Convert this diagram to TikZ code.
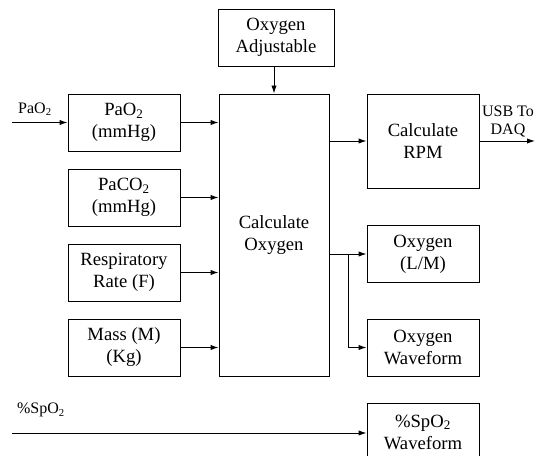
\documentclass[tikz,border=0pt]{standalone}
\usepackage{fontspec}
\setmainfont{Liberation Serif}
\usetikzlibrary{arrows.meta,positioning}

\begin{document}
\begin{tikzpicture}[
        x=0.75pt, y=-0.75pt,
        font=\fontsize{14}{16.5}\selectfont,
        block/.style={rectangle, draw=black, line width=0.7pt, minimum width=84pt, minimum height=42.75pt, inner sep=2pt, align=center},
        sidelabel/.style={font=\fontsize{12}{13.5}\selectfont, align=center, inner sep=1pt},
        arrow/.style={-{Latex[length=6pt,width=4pt]}, line width=0.7pt}
    ]
    \useasboundingbox (0,0) rectangle (544,456);

    \node[block, minimum width=87pt] (adjust) at (276,37.5) {Oxygen\\Adjustable};
    \node[block, minimum width=82.5pt, minimum height=211.5pt] (calcox) at (274,235) {Calculate\\Oxygen};

    \node[block] (pao) at (124,122.5) {PaO\textsubscript{2}\\(mmHg)};
    \node[block] (paco) at (124,197.5) {PaCO\textsubscript{2}\\(mmHg)};
    \node[block] (resp) at (124,272.5) {Respiratory\\Rate (F)};
    \node[block] (mass) at (124,347.5) {Mass (M)\\(Kg)};

    \node[block, minimum height=70.5pt] (rpm) at (423,141) {Calculate\\RPM};
    \node[block] (oxlm) at (423,254) {Oxygen\\(L/M)};
    \node[block] (oxwave) at (423,347.5) {Oxygen\\Waveform};
    \node[block] (spowave) at (423,432) {\%SpO\textsubscript{2}\\Waveform};

    \coordinate (paoin) at (12,122.5);
    \coordinate (usbout) at (535,141);
    \coordinate (spoin) at (12,433);
    \coordinate (split) at (348,254);

    \node[sidelabel] (paolabel) at (35,109) {PaO\textsubscript{2}};
    \node[sidelabel, anchor=south] (usblabel) at (508,139) {USB To\\DAQ};
    \node[sidelabel] (spolabel) at (41,410) {\%SpO\textsubscript{2}};

    \draw[arrow] (paoin) -- (pao.west);
    \draw[arrow] (adjust.south -| calcox.north) -- (calcox.north);

    \draw[arrow] (pao.east) -- (pao.east -| calcox.west);
    \draw[arrow] (paco.east) -- (paco.east -| calcox.west);
    \draw[arrow] (resp.east) -- (resp.east -| calcox.west);
    \draw[arrow] (mass.east) -- (mass.east -| calcox.west);

    \draw[arrow] (rpm.west -| calcox.east) -- (rpm.west);
    \draw[arrow] (rpm.east) -- (usbout);
    \draw[arrow] (oxlm.west -| calcox.east) -- (oxlm.west);
    \draw[arrow] (split) |- (oxwave.west);
    \draw[arrow] (spoin) -- (spoin -| spowave.west);
\end{tikzpicture}
\end{document}
